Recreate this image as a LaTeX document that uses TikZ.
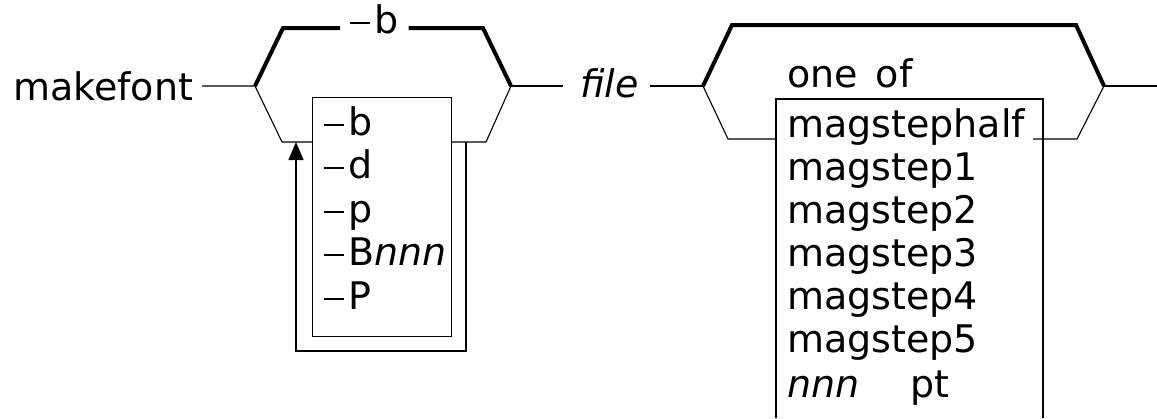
\documentclass[tikz,border=0pt]{standalone}
\usepackage{fontspec}
\setmainfont{DejaVu Sans}
\usetikzlibrary{arrows.meta}
\newcommand\optdash{\rule[9pt]{20pt}{2.3pt}\hspace{4pt}}
\begin{document}
\begin{tikzpicture}[x=1pt,y=-1pt,
  lbl/.style={anchor=base west,inner sep=0pt,font=\fontsize{38}{38}\selectfont},
  var/.style={anchor=base west,inner sep=0pt,font=\fontsize{38}{38}\selectfont\itshape},
  thinline/.style={line width=1.1pt},
  thickline/.style={line width=4pt,line join=miter},
  boxline/.style={draw,line width=1.1pt,inner sep=0pt,anchor=north west}]
\useasboundingbox (0,0) rectangle (1157,418);
% ---------- makefont and first bracket ----------
\node[lbl] (mk) at (13,100) {makefont};
\coordinate (mkR) at (202,86);
\coordinate (aL) at (255,86);
\coordinate (aTL) at (283,28);
\coordinate (aTR) at (483,28);
\coordinate (aR) at (511,86);
\coordinate (aBL) at (282,142);
\coordinate (aBR) at (486,142);
\node[anchor=base west,inner ysep=0pt,inner xsep=10pt,font=\fontsize{38}{38}\selectfont] (ob) at (340,33) {\optdash b};
\draw[thickline] (aL) -- (aTL) -- (ob.west |- aTL);
\draw[thickline] (ob.east |- aTR) -- (aTR) -- (aR);
\node[boxline,minimum width=139pt,minimum height=239pt] (boxA) at (312,97) {};
\node[lbl] (o1) at (324,135) {\optdash b};
\node[lbl] (o2) at (324,178) {\optdash d};
\node[lbl] (o3) at (324,222) {\optdash p};
\node[lbl] (o4) at (324,265) {\optdash B{\itshape nnn}};
\node[lbl] (o5) at (324,309) {\optdash P};
\draw[thinline] (mkR) -- (aL) -- (aBL) -- (boxA.west |- aBL);
\draw[thinline] (boxA.east |- aBR) -- (aBR) -- (aR);
\coordinate (lpR) at (466,142);
\coordinate (lpB) at (296,351);
\coordinate (lpT) at (296,142);
\draw[thinline,-{Triangle[width=15pt,length=18pt]}] (lpR) |- (lpB) -- (lpT);
% ---------- file ----------
\node[var] (file) at (580,97) {file};
\coordinate (fR) at (563,86);
\draw[thinline] (aR) -- (fR);
% ---------- second bracket ----------
\coordinate (fL) at (650,86);
\coordinate (bL) at (703,86);
\coordinate (bTL) at (732,25);
\coordinate (bTR) at (1076,25);
\coordinate (bR) at (1104,86);
\coordinate (bBL) at (728,139);
\coordinate (bBR) at (1077,139);
\coordinate (bIn) at (1033,139);
\coordinate (endR) at (1157,86);
\draw[thinline] (fL) -- (bL);
\draw[thickline] (bL) -- (bTL) -- (bTR) -- (bR);
\draw[thinline] (bR) -- (endR);
\node[lbl] (oneof) at (787,87) {one\hspace{18pt}of};
\coordinate (bxTL) at (776,99);
\coordinate (bxTR) at (1043,99);
\coordinate (bxBL) at (776,418);
\coordinate (bxBR) at (1043,418);
\draw[thinline] (bxBL) -- (bxTL) -- (bxTR) -- (bxBR);
\draw[thinline] (bL) -- (bBL) -- (bxTL |- bBL);
\draw[thinline] (bIn) -- (bBR) -- (bR);
\node[lbl] (m0) at (787,137) {magstephalf};
\node[lbl] (m1) at (787,180) {magstep1};
\node[lbl] (m2) at (787,223) {magstep2};
\node[lbl] (m3) at (787,266) {magstep3};
\node[lbl] (m4) at (787,309) {magstep4};
\node[lbl] (m5) at (787,352) {magstep5};
\node[var] (nn) at (787,397) {nnn};
\node[lbl] (pt) at (910,397) {pt};
\end{tikzpicture}
\end{document}
